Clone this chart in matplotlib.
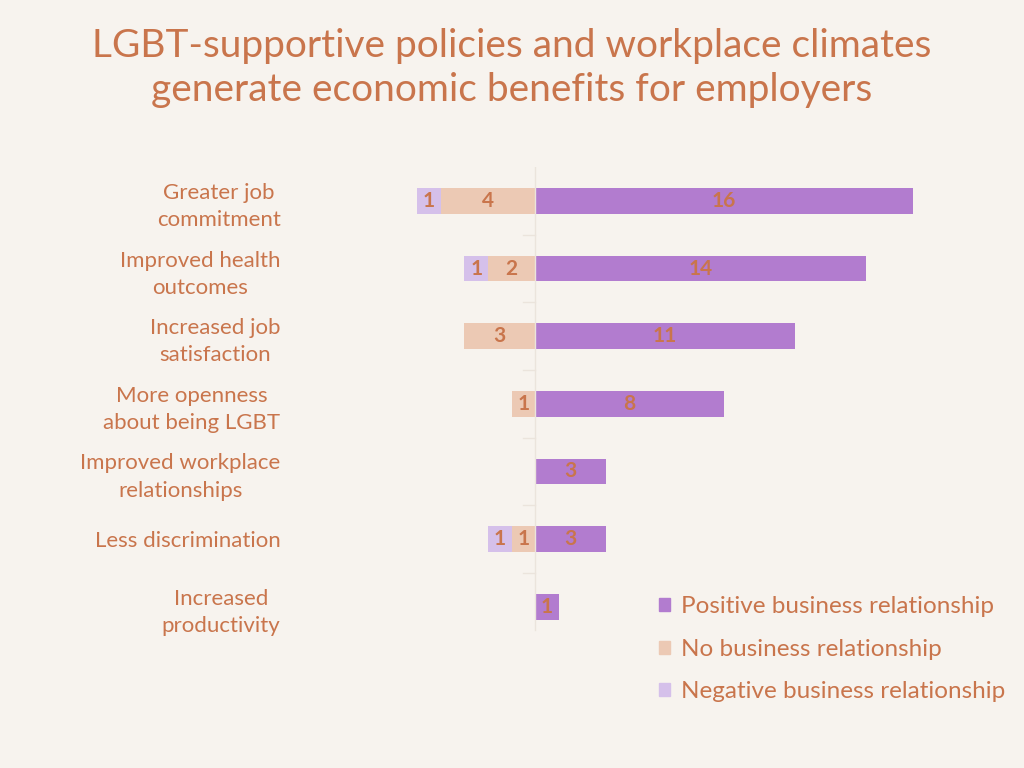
import matplotlib
matplotlib.use("Agg")
import matplotlib.pyplot as plt
import matplotlib.patches as mpatches
import numpy as np

# ---- data ----
categories = [
    "Greater job\ncommitment",
    "Improved health\noutcomes",
    "Increased job\nsatisfaction",
    "More openness\nabout being LGBT",
    "Improved workplace\nrelationships",
    "Less discrimination",
    "Increased\nproductivity",
]
positive = [16, 14, 11, 8, 3, 3, 1]
no_relation = [4, 2, 3, 1, 0, 1, 0]
negative = [1, 1, 0, 0, 0, 1, 0]

series_names = ["Positive business relationship",
                "No business relationship",
                "Negative business relationship"]

# ---- style ----
BG = "#f7f3ee"
C_POS = "#b27ccf"
C_NO = "#ecc9b4"
C_NEG = "#d5c0ea"
TXT = "#c9754c"
FONT = ["Lato", "DejaVu Sans"]

plt.rcParams["font.family"] = FONT

fig = plt.figure(figsize=(10.24, 7.68), dpi=100, facecolor=BG)
ax = fig.add_axes([0.293, 0.1615, 0.684, 0.621], facecolor=BG)

y = np.arange(len(categories))
pos = np.array(positive)
no = np.array(no_relation)
neg = np.array(negative)
h = 0.38

ax.barh(y, pos, height=h, left=0, color=C_POS)
ax.barh(y, -no, height=h, left=0, color=C_NO)
ax.barh(y, -neg, height=h, left=-no, color=C_NEG)

lbl = dict(ha="center", va="center", color=TXT, fontsize=15, fontweight="bold")
for i in range(len(categories)):
    if pos[i]:
        ax.text(pos[i] / 2, y[i], str(pos[i]), **lbl)
    if no[i]:
        ax.text(-no[i] / 2, y[i], str(no[i]), **lbl)
    if neg[i]:
        ax.text(-no[i] - neg[i] / 2, y[i], str(neg[i]), **lbl)

ax.set_xlim(-9.96, 19.7)
ax.set_ylim(len(categories) - 0.45, -0.5)
ax.set_yticks(y)
ax.set_yticklabels(categories, fontsize=16, color=TXT, ha="right",
                   multialignment="center", linespacing=1.45)
ax.tick_params(axis="y", length=0, pad=14)
ax.tick_params(axis="x", bottom=False, labelbottom=False)
for s in ax.spines.values():
    s.set_visible(False)

# faint category axis at zero with small boundary ticks
ax.axvline(0, color="#ebe4dc", lw=1, ymin=0.03, ymax=1)
for b in np.arange(0.5, len(categories) - 1, 1):
    ax.plot([-0.5, 0], [b, b], color="#ebe4dc", lw=1)

handles = [mpatches.Patch(color=c, label=n) for c, n in zip([C_POS, C_NO, C_NEG], series_names)]
leg = fig.legend(handles=handles, loc="upper left", bbox_to_anchor=(0.622, 0.252),
                 frameon=False, fontsize=17.5, handlelength=0.45, handleheight=0.45,
                 handletextpad=0.45, labelspacing=0.88)
for t in leg.get_texts():
    t.set_color(TXT)

fig.text(0.5, 0.94, "LGBT-supportive policies and workplace climates",
         ha="center", va="center", fontsize=28, color=TXT)
fig.text(0.5, 0.883, "generate economic benefits for employers",
         ha="center", va="center", fontsize=28, color=TXT)

fig.savefig("out.png", dpi=100, facecolor=BG)
